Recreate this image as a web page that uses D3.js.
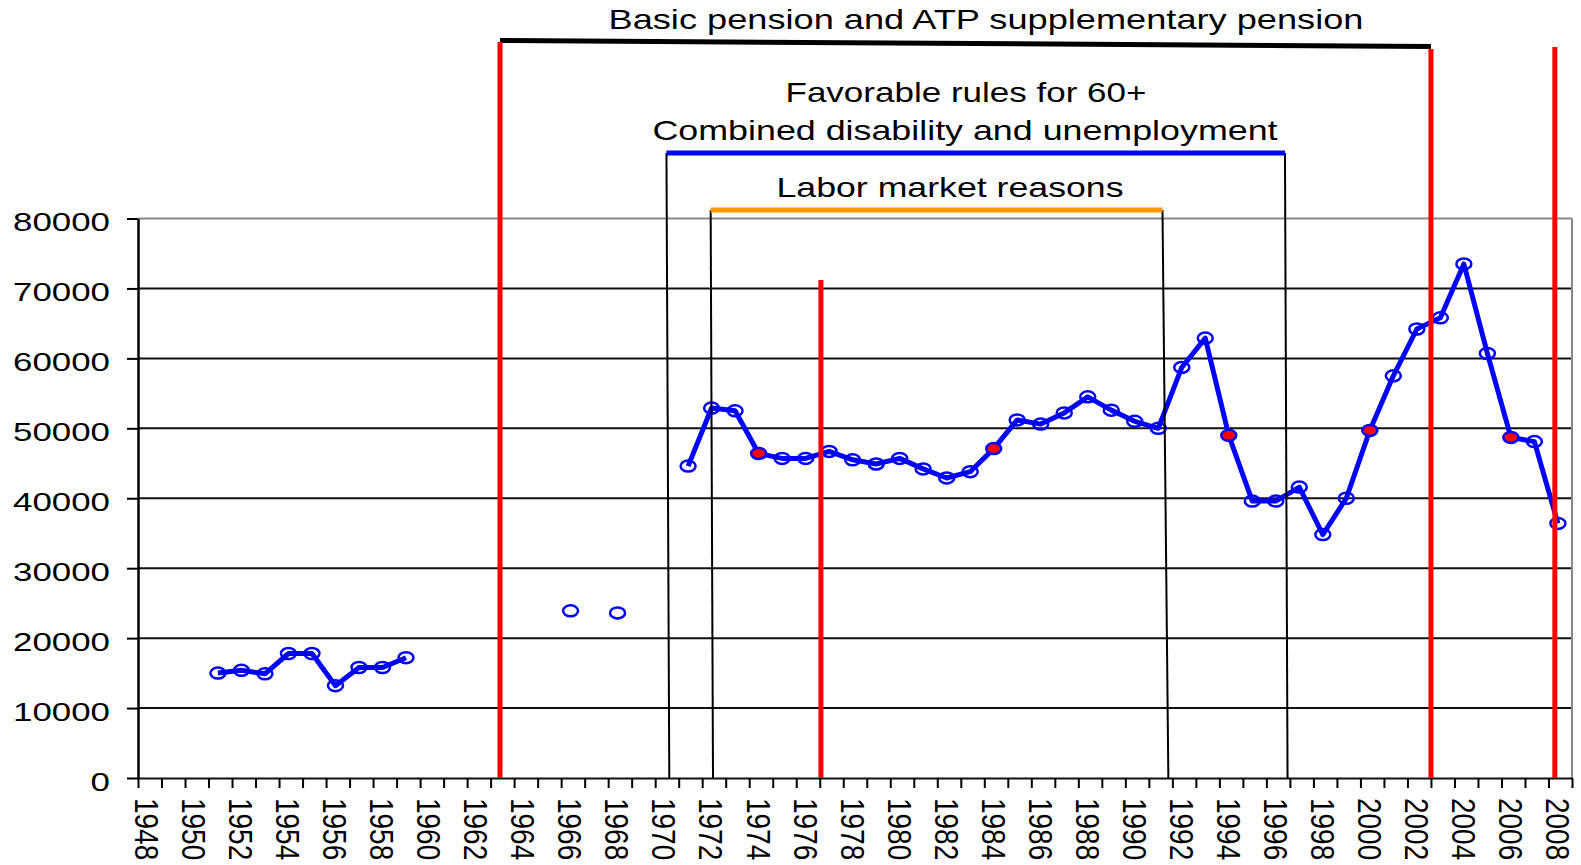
<!DOCTYPE html>
<html>
<head>
<meta charset="utf-8">
<script src="https://cdn.jsdelivr.net/npm/d3@7"></script>
<style>
  body { margin: 0; background: #fff; }
  svg { display: block; font-family: "Liberation Sans", Arial, sans-serif; }
</style>
</head>
<body>
<svg id="chart" width="1581" height="865"></svg>
<script>
// one value per year 1948..2008, null where there is no figure
const years = d3.range(1948, 2009);
const values = [
  null, null, null,
  15000, 15400, 14900, 17800, 17800, 13200, 15800, 15800, 17200,
  null, null, null, null, null, null,
  23900, null, 23600, null, null,
  44600, 52900, 52500, 46400, 45700, 45700, 46700, 45500, 44900, 45700,
  44200, 42900, 43800, 47100, 51200, 50600, 52200, 54500, 52600, 51000,
  50000, 58700, 62900, 49000, 39600, 39600, 41600, 34800, 40000, 49700,
  57500, 64200, 65800, 73500, 60700, 48700, 48100, 36400
];
const reformYears = [1974, 1984, 1994, 2000, 2006];   // red filled markers
const yTicks = [0, 10000, 20000, 30000, 40000, 50000, 60000, 70000, 80000];
const labelYears = d3.range(1948, 2009, 2);

// annotations, positions in years
const redLineYears = [1963.0, 1976.65, 2002.6, 2007.87];
const redLineTops = [42, 280, 49, 47];
const bracketYears = [[1970.08, 1970.2], [1971.96, 1972.06], [1991.18, 1991.43], [1996.39, 1996.5]];
const periodNames = [
  "Basic pension and ATP supplementary pension",
  "Favorable rules for 60+",
  "Combined disability and unemployment",
  "Labor market reasons"
];

const svg = d3.select("#chart");
const plotLeft = 138, plotRight = 1572, plotTop = 218.5, plotBottom = 778;

const x = d3.scaleLinear().domain([1947.6, 2008.6]).range([plotLeft, plotRight]);
const y = d3.scaleLinear().domain([0, 80000]).range([plotBottom, plotTop]);

svg.append("rect").attr("width", 1581).attr("height", 865).attr("fill", "#fff");

// gridlines
svg.append("g")
  .selectAll("line")
  .data(yTicks.slice(1))
  .join("line")
  .attr("x1", plotLeft).attr("x2", plotRight)
  .attr("y1", d => y(d)).attr("y2", d => y(d))
  .attr("stroke", d => d === 80000 ? "#888" : "#111")
  .attr("stroke-width", 2);

// right border
svg.append("line")
  .attr("x1", plotRight).attr("x2", plotRight)
  .attr("y1", y(80000)).attr("y2", plotBottom)
  .attr("stroke", "#888").attr("stroke-width", 2);

// x axis: ticks between years
const boundaries = d3.range(0, 62).map(k => 1947.6 + k);
const xAxis = svg.append("g")
  .attr("transform", `translate(0,${plotBottom})`)
  .call(d3.axisBottom(x).tickValues(boundaries).tickFormat("").tickSize(10).tickSizeOuter(0));
xAxis.select(".domain").attr("stroke", "#111").attr("stroke-width", 2);
xAxis.selectAll(".tick line").attr("stroke", "#000").attr("stroke-width", 2);

svg.append("g")
  .selectAll("text")
  .data(labelYears)
  .join("text")
  .attr("transform", d => `translate(${x(d)},798) scale(1.2,1) rotate(90)`)
  .attr("dy", "0.36em")
  .attr("font-size", 28)
  .attr("fill", "#000")
  .text(d => d);

// y axis
const yAxis = svg.append("g")
  .attr("transform", `translate(${plotLeft},0)`)
  .call(d3.axisLeft(y).tickValues(yTicks).tickFormat(d3.format("d")).tickSize(11).tickSizeOuter(0).tickPadding(17));
yAxis.select(".domain").attr("stroke", "#000").attr("stroke-width", 2.5);
yAxis.selectAll(".tick line").attr("stroke", "#000").attr("stroke-width", 2);
yAxis.selectAll(".tick text")
  .attr("font-size", 26)
  .attr("font-family", "Liberation Sans, Arial, sans-serif")
  .attr("fill", "#000")
  .attr("y", 3)
  .attr("dy", "0.36em")
  .attr("textLength", d => String(d).length * 19.4)
  .attr("lengthAdjust", "spacingAndGlyphs");

// series
const pts = years.map((yr, i) => ({ year: yr, value: values[i] }));
const line = d3.line()
  .defined(d => d.value != null)
  .x(d => x(d.year))
  .y(d => y(d.value));

svg.append("path")
  .datum(pts)
  .attr("fill", "none")
  .attr("stroke", "#0000ff")
  .attr("stroke-width", 5)
  .attr("stroke-linejoin", "round")
  .attr("d", line);

svg.append("g")
  .selectAll("ellipse")
  .data(pts.filter(d => d.value != null))
  .join("ellipse")
  .attr("cx", d => x(d.year))
  .attr("cy", d => y(d.value))
  .attr("rx", 7.5)
  .attr("ry", 5.5)
  .attr("fill", d => reformYears.includes(d.year) ? "#ff0000" : "none")
  .attr("stroke", "#0000ff")
  .attr("stroke-width", 2.5);

// thin black period brackets
svg.append("g")
  .selectAll("line")
  .data(bracketYears)
  .join("line")
  .attr("x1", d => x(d[0])).attr("x2", d => x(d[1]))
  .attr("y1", (d, i) => i === 0 || i === 3 ? 153 : 210)
  .attr("y2", plotBottom)
  .attr("stroke", "#000").attr("stroke-width", 2);

// period bars
svg.append("line")
  .attr("x1", x(redLineYears[0])).attr("x2", x(redLineYears[2]))
  .attr("y1", 40.5).attr("y2", 46.5)
  .attr("stroke", "#000").attr("stroke-width", 5);
svg.append("line")
  .attr("x1", x(bracketYears[0][0])).attr("x2", x(bracketYears[3][0]))
  .attr("y1", 153).attr("y2", 153)
  .attr("stroke", "#0000ff").attr("stroke-width", 5);
svg.append("line")
  .attr("x1", x(bracketYears[1][0])).attr("x2", x(bracketYears[2][0]))
  .attr("y1", 210).attr("y2", 210)
  .attr("stroke", "#ff9900").attr("stroke-width", 5);

// red reform lines
svg.append("g")
  .selectAll("line")
  .data(redLineYears)
  .join("line")
  .attr("x1", d => x(d)).attr("x2", d => x(d))
  .attr("y1", (d, i) => redLineTops[i])
  .attr("y2", plotBottom)
  .attr("stroke", "#ff0000").attr("stroke-width", 5);

// period labels
const labelPos = [
  { cx: 986, base: 28.5, len: 755 },
  { cx: 966, base: 101.5, len: 361 },
  { cx: 965, base: 139.5, len: 625 },
  { cx: 950, base: 196.5, len: 347 }
];
svg.append("g")
  .selectAll("text")
  .data(periodNames)
  .join("text")
  .attr("x", (d, i) => labelPos[i].cx)
  .attr("y", (d, i) => labelPos[i].base)
  .attr("text-anchor", "middle")
  .attr("font-size", 28)
  .attr("fill", "#000")
  .attr("textLength", (d, i) => labelPos[i].len)
  .attr("lengthAdjust", "spacingAndGlyphs")
  .text(d => d);
</script>
</body>
</html>
